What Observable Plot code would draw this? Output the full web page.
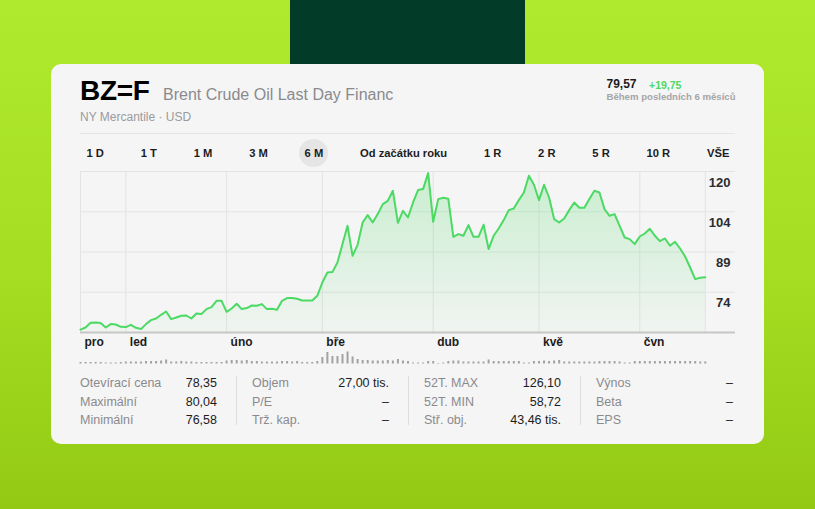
<!DOCTYPE html>
<html>
<head>
<meta charset="utf-8">
<script src="https://cdn.jsdelivr.net/npm/d3@7"></script>
<script src="https://cdn.jsdelivr.net/npm/@observablehq/plot@0.6"></script>
<style>
html,body{margin:0;padding:0;}
body{width:815px;height:509px;overflow:hidden;position:relative;
  background:linear-gradient(180deg,#b0ea2e 0%,#a4dd22 55%,#93c913 100%);
  font-family:"Liberation Sans",Arial,sans-serif;}
#dark{position:absolute;left:290px;top:0;width:235px;height:64px;background:#023c29;}
#card{position:absolute;left:51px;top:64px;width:713px;height:380px;background:#f5f5f5;border-radius:10px;}
.abs{position:absolute;white-space:nowrap;}
#sym{left:80px;top:76.5px;font-size:28px;line-height:28px;font-weight:900;color:#000;letter-spacing:-0.3px;}
#name{left:163px;top:86px;font-size:16px;line-height:18px;color:#8a8a8e;}
#exch{left:80px;top:110.2px;font-size:12px;line-height:14px;color:#9a9a9e;}
#price{left:606.5px;top:78px;font-size:12px;line-height:13px;font-weight:700;color:#1c1c1e;}
#chg{left:649px;top:78.5px;font-size:10.5px;line-height:12px;font-weight:700;color:#4cd964;}
#period{left:606.5px;top:91px;font-size:9.6px;line-height:11px;font-weight:700;color:#a5a5a8;}
#sep{left:80px;top:133px;width:655px;height:1px;background:#e4e4e4;}
#tabs{left:86.5px;top:145.7px;width:643px;display:flex;justify-content:space-between;
  font-size:11.2px;line-height:14px;font-weight:700;color:#1c1c1e;z-index:0;}
#tabs span{position:relative;}
#tabs span.active::before{content:"";position:absolute;left:50%;top:50%;width:29px;height:28px;
  margin:-14px 0 0 -14.5px;border-radius:50%;background:#e5e5e5;z-index:-1;}
#chart{left:80px;top:165px;}
#vol{left:80px;top:350px;}
.lab{font-size:12.5px;line-height:16px;color:#8a8a8e;}
.val{font-size:12.5px;line-height:16px;color:#1c1c1e;text-align:right;}
.vsep{width:1px;background:#dedede;}
</style>
</head>
<body>
<div id="dark"></div>
<div id="card"></div>
<div id="sym" class="abs"></div>
<div id="name" class="abs"></div>
<div id="exch" class="abs"></div>
<div id="price" class="abs"></div>
<div id="chg" class="abs"></div>
<div id="period" class="abs"></div>
<div id="sep" class="abs"></div>
<div id="tabs" class="abs"></div>
<div id="chart" class="abs"></div>
<div id="vol" class="abs"></div>
<div id="stats"></div>
<script>
// ---------- data ----------
const symbol = "BZ=F";
const instrumentName = "Brent Crude Oil Last Day Financ";
const exchangeText = "NY Mercantile · USD";
const lastPrice = "79,57";
const priceChange = "+19,75";
const periodText = "Během posledních 6 měsíců";
const tabs = ["1 D","1 T","1 M","3 M","6 M","Od začátku roku","1 R","2 R","5 R","10 R","VŠE"];
const activeTab = "6 M";

// daily closes (trading-day index 0..124)
const closes = [
  59.82,60.61,62.39,62.50,62.28,60.61,61.90,61.75,60.88,
  60.76,61.63,60.50,60.01,61.90,63.41,64.01,65.41,66.66,63.79,64.39,65.04,65.15,64.01,65.91,65.68,67.57,68.33,70.71,70.71,
  66.55,67.80,69.57,67.57,67.95,68.93,68.82,69.46,67.57,67.68,67.30,70.71,71.73,71.73,71.46,70.82,70.82,70.82,72.60,
  77.63,81.41,81.56,85.19,92.15,99.07,87.72,91.88,100.32,103.11,100.32,103.49,107.27,108.52,112.30,100.20,104.74,102.21,107.88,112.57,112.95,119.00,
  100.58,109.16,109.66,109.28,94.91,95.93,95.29,99.33,94.91,94.91,99.45,90.26,95.29,98.05,101.22,105.00,105.61,108.79,111.66,117.97,114.57,
  108.79,114.57,109.77,101.60,100.32,101.83,105.00,107.88,105.87,105.87,109.16,112.30,111.66,105.38,102.85,103.49,99.07,94.64,94.04,92.15,
  95.02,96.16,97.93,95.29,93.28,94.27,91.51,93.02,90.48,87.46,83.30,78.91,79.40,79.57
];
// daily volume (relative units)
const volumes = [
  1.5,1.5,1.5,1.5,1.5,1,1,1,1.5,
  2,2,2,2,2.5,2.5,2.5,3,4,2,2,2.5,2,2,1.5,1.5,1.5,1.5,1.5,1.5,
  3,3.5,3.5,3,3.5,2.5,2.5,2,2,2,2,2.5,2.5,2,2.5,1.5,1.5,1.5,2.5,
  6.5,11.5,7.5,7.5,9.5,12,7,4.5,3.5,3.5,3,3,3,3.5,3,4.5,3,2.5,1,1,1,2.5,
  2.5,0.5,1,2.5,3,3,2,2,2,2,2,4,2.5,2.5,2.5,2.5,2.5,2.5,1,1,2.5,
  2.5,3,2.5,3,3.5,2,2,2,2,2,2,2,2.5,2.5,2.5,2.5,2,1,1,2.5,
  2.5,2.5,2.5,2.5,2.5,2.5,2.5,2.5,2.5,2.5,2.5,2.5,2,2
];
const monthLabels = ["pro","led","úno","bře","dub","kvě","čvn"];
const monthStartIdx = [0,9,29,48,70,91,111];
const yTicks = [73.94, 89.16, 104.38, 119.6];
const yTickLabels = ["74","89","104","120"];
const yDomain = [58.72, 119.6];
const xDomain = [0, 130];

const statLabels = [
  ["Otevírací cena","Maximální","Minimální"],
  ["Objem","P/E","Trž. kap."],
  ["52T. MAX","52T. MIN","Stř. obj."],
  ["Výnos","Beta","EPS"]
];
const statValues = [
  ["78,35","80,04","76,58"],
  ["27,00 tis.","–","–"],
  ["126,10","58,72","43,46 tis."],
  ["–","–","–"]
];

// ---------- header ----------
document.getElementById("sym").textContent = symbol;
document.getElementById("name").textContent = instrumentName;
document.getElementById("exch").textContent = exchangeText;
document.getElementById("price").textContent = lastPrice;
document.getElementById("chg").textContent = priceChange;
document.getElementById("period").textContent = periodText;
const tabsEl = document.getElementById("tabs");
tabs.forEach(t => {
  const s = document.createElement("span");
  s.textContent = t;
  if (t === activeTab) s.className = "active";
  tabsEl.appendChild(s);
});

// ---------- chart ----------
const series = closes.map((v, i) => ({i, v}));
const volData = volumes.map((v, i) => ({i, v}));
const gridX = [...monthStartIdx, closes.length - 1];
const font = "Liberation Sans, Arial, sans-serif";

const chart = Plot.plot({
  width: 660, height: 185,
  marginLeft: 0, marginRight: 5, marginTop: 6, marginBottom: 18,
  x: {type: "linear", domain: xDomain, axis: null},
  y: {type: "linear", domain: yDomain, axis: null},
  style: {background: "transparent", overflow: "visible", fontFamily: font},
  marks: [
    Plot.ruleY(yTicks, {x1: xDomain[0], x2: xDomain[1], stroke: "#e3e3e3", strokeWidth: 1}),
    Plot.ruleX(gridX, {y1: yDomain[0], y2: yDomain[1], stroke: "#e3e3e3", strokeWidth: 1}),
    Plot.areaY(series, {x: "i", y1: yDomain[0], y2: "v", fill: "url(#areaGrad)"}),
    Plot.lineY(series, {x: "i", y: "v", stroke: "#4cd964", strokeWidth: 2, strokeLinejoin: "round"}),
    Plot.ruleY([yDomain[0]], {x1: xDomain[0], x2: xDomain[1], stroke: "#c6c6c6", strokeWidth: 2}),
    Plot.text(yTicks, {x: xDomain[1], y: d => d, text: (d, i) => yTickLabels[i], textAnchor: "end",
      dx: -5, dy: 11, fontSize: 13, fontWeight: 700, fill: "#2c2c2e"}),
    Plot.text(monthStartIdx, {x: d => d, y: yDomain[0], text: (d, i) => monthLabels[i], textAnchor: "start",
      dx: 4, dy: 10, fontSize: 12, fontWeight: 700, fill: "#1c1c1e"})
  ]
});
const defs = d3.select(chart).insert("defs", ":first-child");
const grad = defs.append("linearGradient").attr("id", "areaGrad")
  .attr("x1", 0).attr("y1", 0).attr("x2", 0).attr("y2", 1);
grad.append("stop").attr("offset", "0%").attr("stop-color", "#4cd964").attr("stop-opacity", 0.26);
grad.append("stop").attr("offset", "100%").attr("stop-color", "#4cd964").attr("stop-opacity", 0.03);
document.getElementById("chart").appendChild(chart);

const vol = Plot.plot({
  width: 660, height: 14,
  marginLeft: 0, marginRight: 5, marginTop: 1, marginBottom: 0.5,
  x: {type: "linear", domain: xDomain, axis: null},
  y: {type: "linear", domain: [0, 12.5], axis: null},
  style: {background: "transparent", overflow: "visible"},
  marks: [
    Plot.ruleX(volData, {x: "i", y1: 0, y2: "v", stroke: "#a2a2a2", strokeWidth: 2})
  ]
});
document.getElementById("vol").appendChild(vol);

// ---------- stats ----------
const statsEl = document.getElementById("stats");
const rowTops = [375.3, 394, 412.3];
statLabels.forEach((col, c) => {
  const left = 80 + 172 * c;
  col.forEach((lab, r) => {
    const l = document.createElement("div");
    l.className = "abs lab";
    l.style.left = left + "px"; l.style.top = rowTops[r] + "px";
    l.textContent = lab;
    statsEl.appendChild(l);
    const v = document.createElement("div");
    v.className = "abs val";
    v.style.left = left + "px"; v.style.top = rowTops[r] + "px"; v.style.width = "137px";
    v.textContent = statValues[c][r];
    statsEl.appendChild(v);
  });
  if (c < 3) {
    const s = document.createElement("div");
    s.className = "abs vsep";
    s.style.left = (left + 155.5) + "px"; s.style.top = "376px"; s.style.height = "49px";
    statsEl.appendChild(s);
  }
});
</script>
</body>
</html>
